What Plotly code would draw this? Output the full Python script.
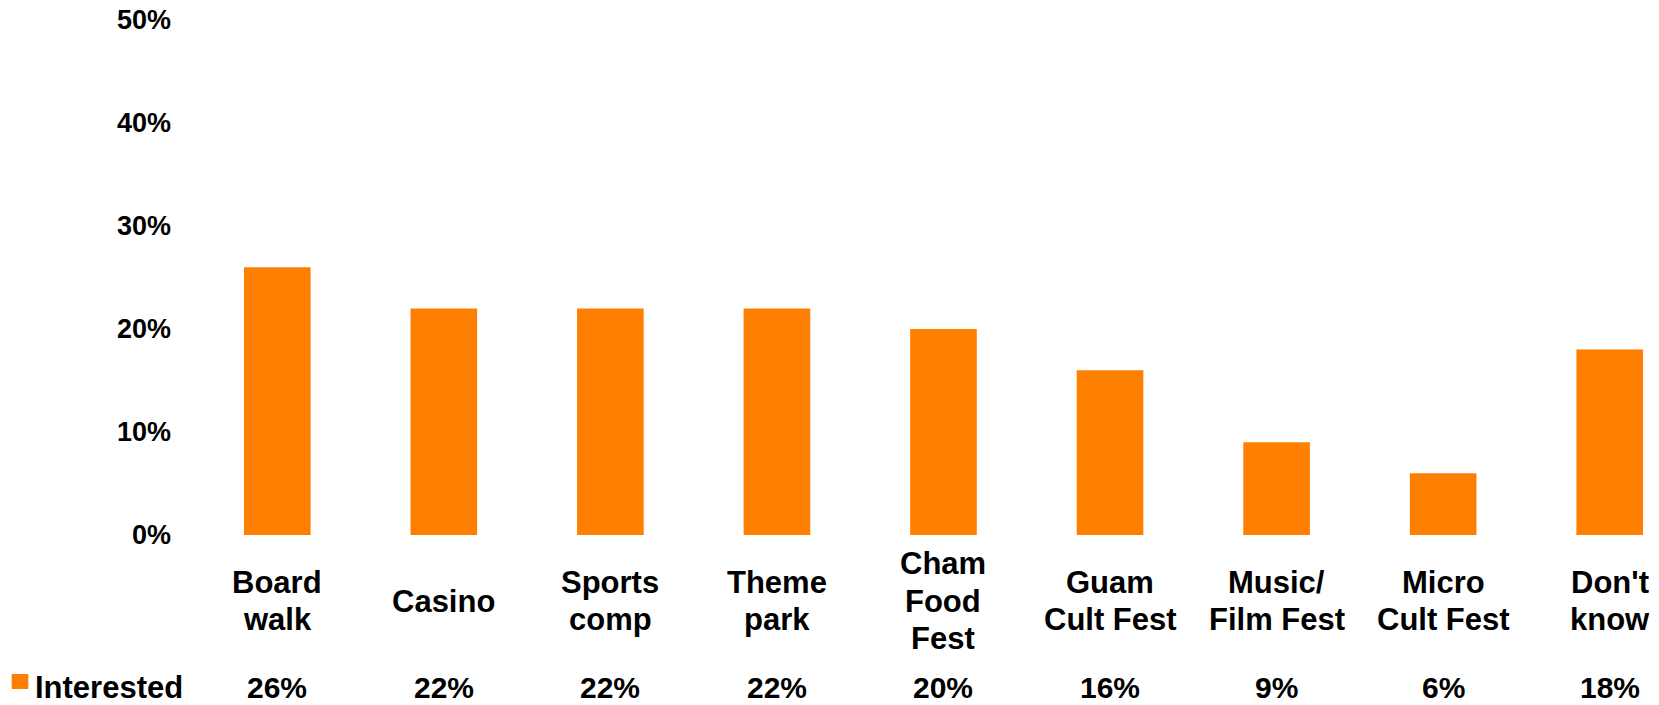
import plotly.graph_objects as go

# Survey results: share of respondents interested in each attraction
categories = ["Board<br>walk", "Casino", "Sports<br>comp", "Theme<br>park",
              "Cham<br>Food<br>Fest", "Guam<br>Cult Fest", "Music/<br>Film Fest",
              "Micro<br>Cult Fest", "Don't<br>know"]
interested = [26, 22, 22, 22, 20, 16, 9, 6, 18]
series_name = "Interested"
y_ticks = [0, 10, 20, 30, 40, 50]
y_tick_labels = ["0%", "10%", "20%", "30%", "40%", "50%"]

ORANGE = "#FF7F00"
FONT = "Liberation Sans, Arial, sans-serif"

x_idx = list(range(len(categories)))

fig = go.Figure()
fig.add_trace(go.Bar(
    x=x_idx, y=interested, name=series_name,
    marker=dict(color=ORANGE, line=dict(width=0)),
    width=0.4, showlegend=False, hoverinfo="skip",
))

annotations = []
line_gap = 37.5
label_center = -66   # pixel offset of the category label block below the baseline
row_center = -152    # pixel offset of the data-table row below the baseline
for i, cat in enumerate(categories):
    lines = cat.split("<br>")
    n = len(lines)
    for k, line in enumerate(lines):
        off = label_center + ((n - 1) / 2 - k) * line_gap
        annotations.append(dict(
            x=i, xref="x", y=0, yref="paper", yshift=off,
            text=line, showarrow=False, xanchor="center", yanchor="middle",
            font=dict(family=FONT, size=31, color="black", weight="bold"),
        ))
    # data-table row underneath
    annotations.append(dict(
        x=i, xref="x", y=0, yref="paper", yshift=row_center,
        text=f"{interested[i]}%", showarrow=False, xanchor="center", yanchor="middle",
        borderpad=0,
        font=dict(family=FONT, size=30, color="black", weight="bold"),
    ))

# series key in the table row
annotations.append(dict(
    x=0, xref="paper", xshift=-160, y=0, yref="paper", yshift=row_center,
    text=series_name, showarrow=False, xanchor="left", yanchor="middle",
    borderpad=0,
    font=dict(family=FONT, size=31, color="black", weight="bold"),
))

shapes = [dict(
    type="rect", xref="paper", yref="paper",
    xsizemode="pixel", ysizemode="pixel", xanchor=0, yanchor=0,
    x0=-182.3, x1=-165.7, y0=row_center - 2, y1=row_center + 13,
    fillcolor=ORANGE, line=dict(width=0),
)]

fig.update_layout(
    width=1659, height=705,
    margin=dict(l=194, r=0, t=20, b=170),
    paper_bgcolor="white", plot_bgcolor="white",
    bargap=0.6,
    xaxis=dict(range=[-0.5, 8.296], showticklabels=False, showgrid=False,
               zeroline=False, showline=False, ticks=""),
    yaxis=dict(range=[0, 50], tickvals=y_ticks, ticktext=y_tick_labels,
               showgrid=False, zeroline=False, showline=False, ticks="",
               ticklabelstandoff=22,
               tickfont=dict(family=FONT, size=27, color="black", weight="bold")),
    annotations=annotations,
    shapes=shapes,
)

fig.write_html("out.html")
